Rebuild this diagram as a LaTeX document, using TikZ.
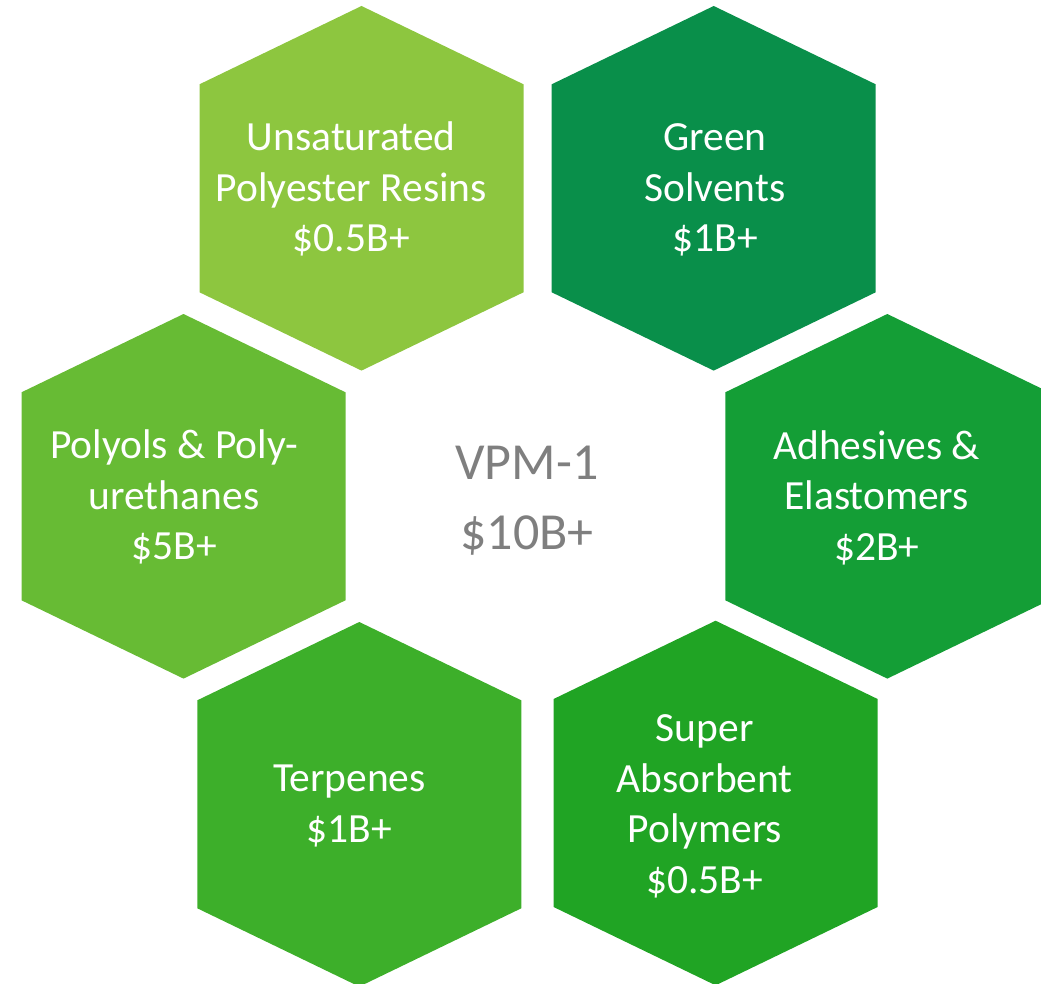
\documentclass[tikz,border=0pt]{standalone}
\usepackage{fontspec}
\setmainfont{Carlito}
\definecolor{hexTL}{HTML}{8DC63F}
\definecolor{hexTR}{HTML}{098F4A}
\definecolor{hexML}{HTML}{67BB34}
\definecolor{hexMR}{HTML}{149E36}
\definecolor{hexBL}{HTML}{3DAF2A}
\definecolor{hexBR}{HTML}{20A424}
\definecolor{centergray}{HTML}{7F7F7F}
\tikzset{
  pics/hexcell/.style={code={
    \fill[#1] (0,-182.3) -- (162,-104) -- (162,104) -- (0,182.3) -- (-162,104) -- (-162,-104) -- cycle;
  }},
  hexlabel/.style={text=white, align=center, inner sep=0pt, anchor=base,
    font=\fontsize{41.5}{50.5}\selectfont},
  centerlabel/.style={text=centergray, align=center, inner sep=0pt, anchor=base,
    font=\fontsize{52}{70}\selectfont}
}
\begin{document}
\begin{tikzpicture}[x=1pt,y=-1pt]
\useasboundingbox (0,0) rectangle (1041,984);
\clip (0,0) rectangle (1041,984);
\pic (hTL) at (361.5,188.3) {hexcell=hexTL};
\pic (hTR) at (713.7,188.3) {hexcell=hexTR};
\pic (hML) at (183.5,496.3) {hexcell=hexML};
\pic (hMR) at (887.3,496.3) {hexcell=hexMR};
\pic (hBL) at (359.3,804.3) {hexcell=hexBL};
\pic (hBR) at (715.6,803) {hexcell=hexBR};
% base anchor of a multi-line node = baseline of its last line
\node[hexlabel] (tTL) at (351.3,252) {Unsaturated\\Polyester Resins\\\$0.5B+};
\node[hexlabel] (tTR) at (715,251.7) {Green\\Solvents\\\$1B+};
\node[hexlabel] (tML) at (174,559.5) {Polyols \& Poly-\\urethanes\\\$5B+};
\node[hexlabel] (tMR) at (876.7,560) {Adhesives \&\\Elastomers\\\$2B+};
\node[hexlabel] (tBL) at (349.4,842) {Terpenes\\\$1B+};
\node[hexlabel] (tBR) at (704.8,893.3) {Super\\Absorbent\\Polymers\\\$0.5B+};
\node[centerlabel] (tC) at (527,549.3) {VPM-1\\\$10B+};
\end{tikzpicture}
\end{document}
